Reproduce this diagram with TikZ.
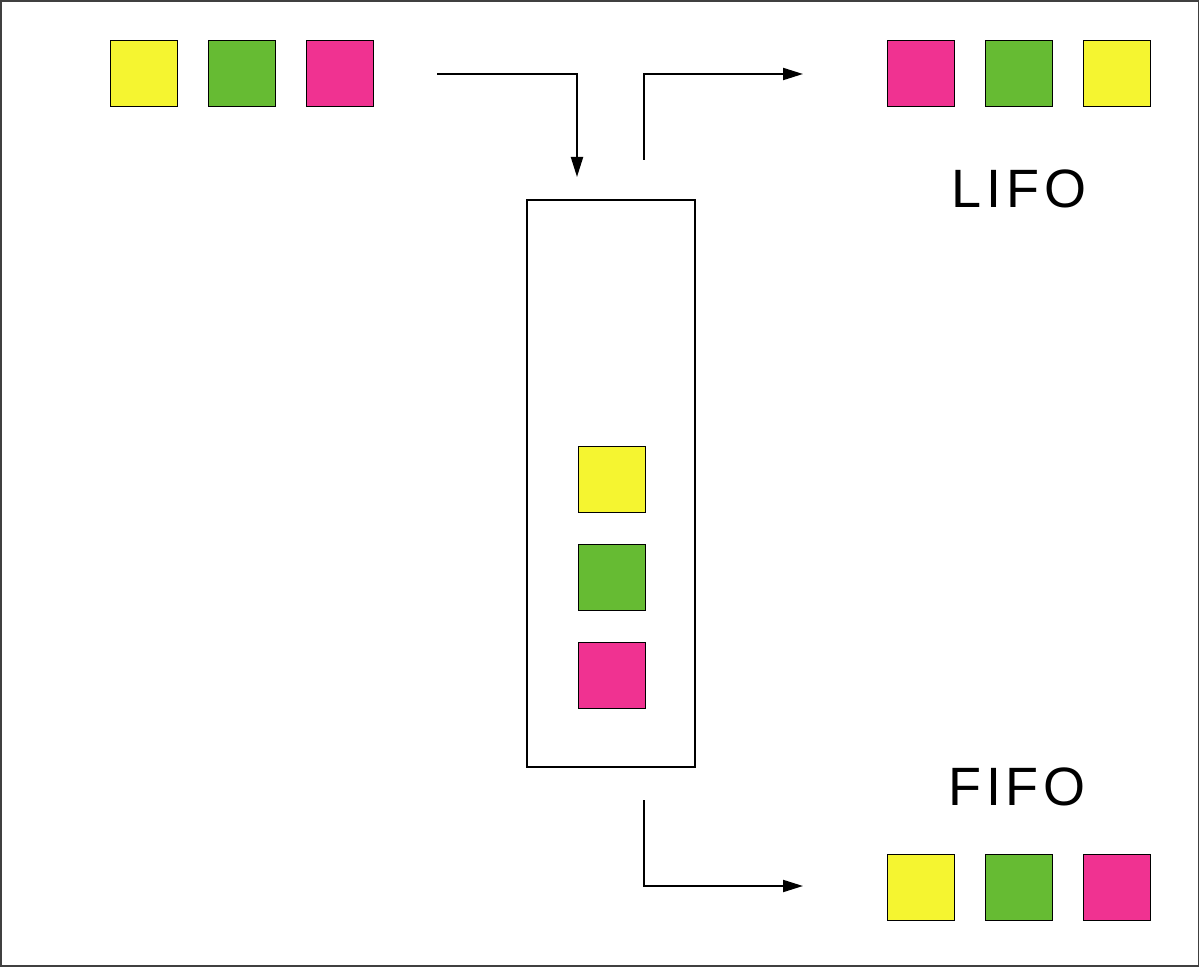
\documentclass[tikz,border=0pt]{standalone}
\usepackage{fontspec}
\setmainfont{Liberation Sans}
\newfontfamily\lblfont[LetterSpace=9]{Liberation Sans}
\usetikzlibrary{arrows.meta}
\definecolor{cyel}{RGB}{245,245,48}
\definecolor{cgrn}{RGB}{102,187,51}
\definecolor{cpnk}{RGB}{240,50,145}
\tikzset{
  sq/.style={draw=black, line width=0.9pt, fill=#1, minimum width=67pt, minimum height=66pt, inner sep=0pt, outer sep=0pt},
  flow/.style={line width=2pt, -{Triangle[length=20pt,width=12pt]}},
  plain/.style={line width=2pt},
  lbl/.style={font=\fontsize{54pt}{60pt}\lblfont, inner sep=0pt, anchor=base}
}
\begin{document}
\begin{tikzpicture}[x=1pt,y=-1pt]
\useasboundingbox (0,0) rectangle (1200,968);
\draw[draw=black!75, line width=1.6pt] (0.8,0.8) rectangle (1198.4,966.2);
% input squares
\node[sq=cyel] (i1) at (143.5,73) {};
\node[sq=cgrn] (i2) at (241.5,73) {};
\node[sq=cpnk] (i3) at (339.5,73) {};
% LIFO output
\node[sq=cpnk] (l1) at (920.5,73) {};
\node[sq=cgrn] (l2) at (1018.5,73) {};
\node[sq=cyel] (l3) at (1116.5,73) {};
% FIFO output
\node[sq=cyel] (f1) at (920.5,887) {};
\node[sq=cgrn] (f2) at (1018.5,887) {};
\node[sq=cpnk] (f3) at (1116.5,887) {};
% container
\node[draw=black, line width=2pt, minimum width=168pt, minimum height=567pt, inner sep=0pt] (box) at (611,483.5) {};
\node[sq=cyel] (c1) at (611.5,479) {};
\node[sq=cgrn] (c2) at (611.5,577) {};
\node[sq=cpnk] (c3) at (611.5,675) {};
% labels
\node[lbl] (lifo) at (1019,208) {LIFO};
\node[lbl] (fifo) at (1017,805) {FIFO};
% arrows
\coordinate (inS) at (437,74);
\coordinate (inE) at (577,177);
\coordinate (outS) at (644,160);
\coordinate (outE) at (803,74);
\coordinate (botS) at (644,800);
\coordinate (botE) at (803,886);
\draw[flow] (inS) -| (inE);
\draw[flow] (outS) |- (outE);
\draw[flow] (botS) |- (botE);
\end{tikzpicture}
\end{document}
